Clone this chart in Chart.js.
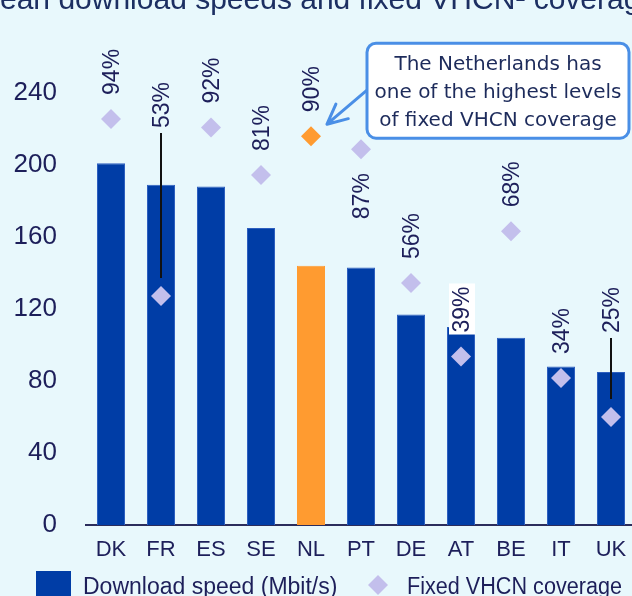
<!DOCTYPE html>
<html>
<head>
<meta charset="utf-8">
<script src="https://cdn.jsdelivr.net/npm/chart.js@4"></script>
<style>
  html, body { margin: 0; padding: 0; background: #e8f8fc; overflow: hidden; }
  #area { width: 632px; height: 596px; overflow: hidden; position: relative; }
  #grafico { position: absolute; left: 0; top: 0; }
</style>
</head>
<body>
<div id="area"><canvas id="grafico" width="660" height="596"></canvas></div>
<script>
// dados
const paises = ['DK', 'FR', 'ES', 'SE', 'NL', 'PT', 'DE', 'AT', 'BE', 'IT', 'UK'];
const velocidade = [201, 189, 188, 165, 144, 143, 117, 110, 104, 88, 85];   // Mbit/s
const coberturaVHCN = [94, 53, 92, 81, 90, 87, 56, 39, 68, 34, 25];         // %
const ticksY = [0, 40, 80, 120, 160, 200, 240];
const destaque = 'NL';

const titulo = 'Mean download speeds and fixed VHCN\u00b9 coverage';
const textoCaixa = ['The Netherlands has', 'one of the highest levels', 'of fixed VHCN coverage'];

const azul = '#003da6';
const laranja = '#ff9b30';
const lilas = '#c3bfec';
const tinta = '#1d1f5a';

Chart.defaults.font.family = '"Liberation Sans", Arial, sans-serif';

// ajustes de posição dos rótulos (só alguns países)
const ajustes = {
    FR: { subir: 168, linha: true },
    UK: { subir: 84, linha: true },
    PT: { abaixo: true },
    AT: { caixa: true }
};

const rotulosPlugin = {
    id: 'rotulos',
    afterDatasetsDraw(chart) {
        const ctx = chart.ctx;
        const meta = chart.getDatasetMeta(1);
        ctx.save();
        ctx.font = '23px "Liberation Sans"';
        meta.data.forEach((pt, i) => {
            const texto = coberturaVHCN[i] + '%';
            const w = ctx.measureText(texto).width;
            const aj = ajustes[paises[i]] || {};
            let base = pt.y - 24;
            if (aj.abaixo) base = pt.y + 24 + w;
            if (aj.subir) base = pt.y - aj.subir;

            if (aj.linha) {
                ctx.strokeStyle = '#111111';
                ctx.lineWidth = 2;
                ctx.beginPath();
                ctx.moveTo(pt.x, base + 5);
                ctx.lineTo(pt.x, pt.y - 18);
                ctx.stroke();
            }
            if (aj.caixa) {
                ctx.fillStyle = '#ffffff';
                ctx.fillRect(pt.x - 12, base - w - 3, 26, w + 5);
            }
            ctx.save();
            ctx.translate(pt.x + 8, base);
            ctx.rotate(-Math.PI / 2);
            ctx.fillStyle = tinta;
            ctx.textAlign = 'left';
            ctx.textBaseline = 'alphabetic';
            ctx.fillText(texto, 0, 0);
            ctx.restore();
        });
        ctx.restore();
    },
    afterDraw(chart) {
        const ctx = chart.ctx;
        ctx.save();

        // título (cortado no topo)
        ctx.fillStyle = '#1c2f62';
        ctx.font = '30px "Liberation Sans"';
        ctx.textBaseline = 'alphabetic';
        ctx.fillText(titulo, -25, 9);

        // caixa de destaque apontando para NL
        const pNL = chart.getDatasetMeta(1).data[paises.indexOf(destaque)];
        const bx = pNL.x + 56, by = pNL.y - 93, bw = 262, bh = 95;
        const ponta = { x: pNL.x + 16, y: pNL.y - 12 };
        const origem = { x: bx, y: by + 47 };
        ctx.strokeStyle = '#4a8fe6';
        ctx.lineWidth = 3;
        ctx.lineCap = 'round';
        ctx.beginPath();
        ctx.moveTo(origem.x, origem.y);
        ctx.lineTo(ponta.x, ponta.y);
        const ang = Math.atan2(origem.y - ponta.y, origem.x - ponta.x);
        [-0.45, 0.45].forEach(d => {
            ctx.moveTo(ponta.x, ponta.y);
            ctx.lineTo(ponta.x + 22 * Math.cos(ang + d), ponta.y + 22 * Math.sin(ang + d));
        });
        ctx.stroke();

        ctx.fillStyle = '#ffffff';
        ctx.beginPath();
        ctx.roundRect(bx, by, bw, bh, 9);
        ctx.fill();
        ctx.stroke();

        ctx.fillStyle = '#1d2b5b';
        ctx.font = '20px "DejaVu Sans"';
        ctx.textAlign = 'center';
        textoCaixa.forEach((linha, k) => {
            ctx.fillText(linha, bx + bw / 2, by + 27 + k * 28);
        });

        // legenda
        ctx.textAlign = 'left';
        ctx.font = '23px "Liberation Sans"';
        ctx.fillStyle = azul;
        ctx.fillRect(36, 571, 35, 35);
        ctx.fillStyle = tinta;
        ctx.fillText(chart.data.datasets[0].label, 83, 594, 256);
        ctx.fillStyle = lilas;
        ctx.beginPath();
        ctx.moveTo(378, 575);
        ctx.lineTo(388, 585);
        ctx.lineTo(378, 595);
        ctx.lineTo(368, 585);
        ctx.closePath();
        ctx.fill();
        ctx.fillStyle = tinta;
        ctx.fillText(chart.data.datasets[1].label, 407, 594, 215);

        ctx.restore();
    }
};

const ctx = document.getElementById('grafico').getContext('2d');
const meuGrafico = new Chart(ctx, {
    data: {
        labels: paises,
        datasets: [{
            type: 'bar',
            label: 'Download speed (Mbit/s)',
            data: velocidade,
            yAxisID: 'y',
            backgroundColor: paises.map(p => p === destaque ? laranja : azul),
            borderColor: paises.map(p => p === destaque ? laranja : '#2d5fbf'),
            borderWidth: 1,
            categoryPercentage: 0.8,
            barPercentage: 0.7,
            order: 2
        }, {
            type: 'line',
            label: 'Fixed VHCN coverage',
            data: coberturaVHCN,
            yAxisID: 'y2',
            showLine: false,
            pointStyle: 'rectRot',
            pointRadius: 10,
            pointHoverRadius: 10,
            pointBackgroundColor: paises.map(p => p === destaque ? laranja : lilas),
            pointBorderColor: paises.map(p => p === destaque ? laranja : lilas),
            pointBorderWidth: 0,
            clip: false,
            order: 1
        }]
    },
    options: {
        responsive: false,
        animation: false,
        layout: { padding: { top: 93, right: 24, left: 0, bottom: 0 } },
        plugins: {
            legend: { display: false },
            tooltip: { enabled: false }
        },
        scales: {
            x: {
                grid: { display: false, drawTicks: false },
                border: { display: true, color: '#2b2d5c', width: 2 },
                ticks: { color: tinta, font: { size: 22 }, padding: 12 },
                afterFit: s => { s.height = 71; }
            },
            y: {
                min: 0,
                max: 240,
                grid: { display: false, drawTicks: false },
                border: { display: false },
                ticks: { color: tinta, font: { size: 26 }, padding: 29 },
                afterBuildTicks: s => { s.ticks = ticksY.map(v => ({ value: v })); },
                afterFit: s => { s.width = 86; }
            },
            y2: { display: false, min: 0, max: 100 }
        }
    },
    plugins: [rotulosPlugin]
});
</script>
</body>
</html>
